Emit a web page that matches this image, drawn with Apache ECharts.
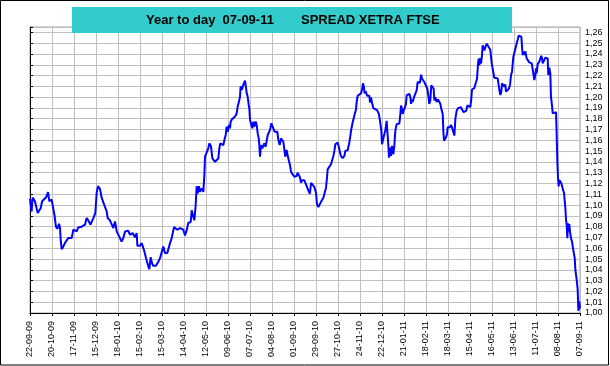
<!DOCTYPE html>
<html><head><meta charset="utf-8">
<script src="https://cdn.jsdelivr.net/npm/echarts@6/dist/echarts.min.js"></script>
<style>html,body{margin:0;padding:0;background:#fff}#c{width:610px;height:366px}</style>
</head><body><div id="c"></div>
<script>
const titleLeft = 'Year to day  07-09-11';
const titleRight = 'SPREAD XETRA FTSE';
const dateLabels = ['22-09-09','20-10-09','17-11-09','15-12-09','18-01-10','15-02-10','15-03-10','14-04-10','12-05-10','09-06-10','07-07-10','04-08-10','01-09-10','29-09-10','27-10-10','24-11-10','22-12-10','21-01-11','18-02-11','18-03-11','15-04-11','16-05-11','13-06-11','11-07-11','08-08-11','07-09-11'];
const labelStep = 20;
const yMin = 1.00, yTop = 1.26, yStep = 0.01;
// [trading day index, spread]
const spreadByDay = [
[0,1.106],[1,1.097],[1.5,1.094],[2.4,1.107],[4.5,1.1035],[6,1.102],[7,1.0927],[8.5,1.0927],[9.7,1.097],[11,1.1035],[12.7,1.105],[14.5,1.107],[16.4,1.112],[17.6,1.1035],[19.7,1.105],[21,1.1035],[22.4,1.0896],[23.6,1.080],[24.8,1.078],[26.4,1.0827],[27.3,1.0787],[27.9,1.0678],[28.8,1.0592],[30.3,1.0617],[31.8,1.0648],[34.8,1.0694],[35.8,1.071],[37.9,1.0694],[39.4,1.0772],[40.9,1.078],[42.4,1.0756],[43.9,1.0793],[45.5,1.0787],[47,1.080],[50,1.0818],[51.5,1.088],[53,1.0858],[55,1.0818],[57.6,1.088],[59.4,1.0927],[60.6,1.1113],[61.8,1.1175],[63.6,1.115],[65.2,1.1066],[66.7,1.105],[68.5,1.0973],[69.7,1.0942],[70.6,1.088],[72.7,1.0858],[74.5,1.0849],[75.8,1.0787],[77.3,1.0849],[78.8,1.0756],[80.3,1.0772],[83.3,1.0663],[84.8,1.0694],[86.4,1.0756],[89.4,1.0762],[90.9,1.0725],[93.3,1.074],[95.5,1.0703],[97,1.074],[97.6,1.0623],[100,1.0623],[101.5,1.0648],[103.6,1.0586],[105.5,1.0508],[107.6,1.043],[108.5,1.0406],[109.7,1.0517],[110.9,1.0462],[112,1.0437],[114.5,1.0437],[116.7,1.0477],[118.2,1.0508],[119.7,1.0524],[121.2,1.0617],[122.7,1.0555],[124.8,1.0555],[127.3,1.0648],[128.8,1.0694],[130.9,1.0796],[132.7,1.080],[133.9,1.0772],[136.4,1.0787],[139.4,1.0772],
[140.9,1.0719],[142.4,1.0765],[143.9,1.0834],[146.1,1.0843],[147,1.0952],[148.5,1.089],[149.4,1.0859],[150.6,1.0998],[151.5,1.1175],[152.4,1.1107],[153.6,1.1175],[154.5,1.1122],[156.1,1.1153],[157.6,1.1122],[158.5,1.1277],[159.1,1.1448],[160.6,1.1463],[162.1,1.1525],[163,1.1572],[164.5,1.1547],[165.8,1.1432],[166.7,1.1423],[168.2,1.1401],[169.7,1.1392],[171.2,1.1432],[172.1,1.1525],[173,1.1572],[174.5,1.1578],[175.8,1.1556],[176.7,1.1603],[177.9,1.1649],[178.8,1.1727],[179.7,1.168],[180.9,1.1742],[181.8,1.1711],[182.4,1.1773],[183.6,1.1795],[184.8,1.1795],[186.4,1.182],[187.9,1.1851],[188.8,1.1913],[190,1.1959],[190.9,1.2006],[191.5,1.2099],[192.7,1.2068],[193.6,1.2105],[194.5,1.213],[195.5,1.2154],[196.4,1.2145],[197,1.2037],[197.9,1.2006],[198.8,1.1928],[199.4,1.1897],[200,1.1789],[201.2,1.1773],[202.1,1.1711],[203,1.1773],[203.9,1.1727],[205.2,1.1773],[206.1,1.1742],[207,1.1664],[207.9,1.1618],[208.5,1.1556],[209.1,1.1448],[210,1.1556],[211.2,1.1525],[212.1,1.154],[213,1.1572],[214.2,1.154],[215.2,1.1525],[216.1,1.1649],[217.3,1.1634],[218.2,1.1696],[219.4,1.1758],[220.3,1.1742],[221.2,1.1711],[222.4,1.168],[223.6,1.1696],[224.8,1.168],[225.8,1.1603],[227,1.1556],[228.2,1.1618],[229.4,1.1618],[230.3,1.1587],[231.5,1.1494],[232.1,1.1448],[233.3,1.151],[234.2,1.1463],[235.2,1.1417],[236.4,1.137],[237.3,1.1308],[238.8,1.1293],[240.3,1.1262],
[241.2,1.1254],[242.4,1.1269],[243.3,1.13],[244.2,1.1285],[245.5,1.1254],[246.4,1.1207],[247.3,1.1229],[249.4,1.1229],[250.9,1.1192],[252.4,1.1176],[253.3,1.113],[254.5,1.1105],[255.5,1.1207],[257,1.1213],[258.5,1.1167],[260,1.1114],[260.9,1.1006],[262.1,1.0981],[263.6,1.099],[265.2,1.1043],[266.7,1.1068],[268.2,1.1083],[269.1,1.1161],[270,1.1254],[270.6,1.1331],[272.1,1.134],[273.6,1.1378],[274.5,1.1409],[275.8,1.1455],[276.7,1.1502],[277.6,1.1564],[278.5,1.1579],[279.7,1.1579],[280.9,1.1533],[281.8,1.1486],[282.7,1.1455],[284.2,1.1434],[285.8,1.1455],[286.7,1.1502],[288.8,1.1508],[290.3,1.1579],[291.2,1.1641],[292.1,1.1703],[293.3,1.1765],[294.8,1.1827],[296.4,1.1889],[297,1.196],[297.9,1.2013],[299.4,1.2023],[300.9,1.2035],[301.8,1.2066],[302.7,1.2128],[303.6,1.2091],[304.2,1.2035],[305.2,1.2054],[306.4,1.2013],[307.6,1.2029],[308.5,1.2013],[309.1,1.1951],[310,1.1998],[310.9,1.1951],[312.1,1.1899],[313.9,1.1889],[315.5,1.188],[317,1.1849],[318.2,1.1781],[319.4,1.1688],[320,1.1564],[321.2,1.1558],[322.1,1.1657],[323,1.1688],[324.2,1.1781],[324.8,1.1787],[325.8,1.1548],[326.4,1.144],[327.3,1.1533],[328.2,1.1455],[329.1,1.1548],[330.3,1.1471],[331.2,1.1548],[332.1,1.1688],[333.3,1.175],[334.5,1.1765],[335.8,1.1756],
[336.7,1.1845],[337.3,1.1923],[338.2,1.1892],[338.8,1.1845],[339.7,1.1876],[340.9,1.1907],[341.8,1.1938],[342.4,1.2016],[343.3,1.2031],[344.8,1.2031],[345.8,1.2],[346.4,1.1938],[347.3,1.1978],[347.9,1.1954],[349.1,1.2],[350.3,1.1991],[350.9,1.2],[351.5,1.2062],[352.4,1.214],[353.3,1.2155],[354.5,1.2133],[355.5,1.2208],[356.4,1.2171],[357.6,1.2171],[358.5,1.214],[360,1.2155],[361.2,1.2078],[362.1,1.2016],[363,1.1938],[363.9,1.1969],[364.8,1.2109],[366.1,1.2124],[367,1.2078],[367.6,1.1969],[368.5,1.2],[369.7,1.1954],[370.9,1.1978],[372.1,1.1969],[373,1.1938],[373.9,1.1892],[375.2,1.1845],[375.8,1.1675],[376.4,1.1597],[377.3,1.1613],[378.2,1.1628],[379.1,1.1659],[379.7,1.1721],[380.6,1.1737],[381.8,1.1721],[382.7,1.1743],[383.6,1.1721],[384.5,1.1706],[385.8,1.1644],[386.7,1.1799],[387.9,1.1876],[389.1,1.1898],[390.3,1.1907],[391.8,1.1907],[392.7,1.1885],[394.2,1.1861],[395.5,1.1854],[396.7,1.1876],[397.6,1.1923],[398.5,1.1929],[399.4,1.1916],[400.3,1.1907],[401.2,1.1985],[401.8,1.2071],[402.4,1.2084],[403.9,1.2084],[405.5,1.2093],[406.4,1.2171],[407.3,1.231],[407.9,1.2357],[408.5,1.2295],[409.1,1.2363],[410,1.231],[410.9,1.2388],[411.5,1.2481],[412.1,1.2496],[413,1.2434],[413.9,1.245],[415.2,1.2496],[416.1,1.2505],[417,1.2481],
[418.5,1.2436],[419.4,1.2344],[420,1.2297],[420.6,1.2313],[421.5,1.2304],[422.1,1.218],[423.6,1.218],[425.2,1.2174],[426.1,1.218],[426.7,1.2066],[427.6,1.202],[428.5,1.2051],[429.1,1.2128],[430.3,1.2137],[431.2,1.2097],[432.1,1.2119],[432.7,1.2051],[433.6,1.2066],[434.5,1.2051],[435.2,1.2076],[436.4,1.2113],[437.3,1.2205],[438.2,1.2236],[438.8,1.2242],[439.4,1.2375],[440.3,1.2359],[441.2,1.2446],[442.4,1.2498],[443.3,1.2529],[444.2,1.2569],[445.5,1.2581],[446.7,1.256],[447.3,1.2467],[447.9,1.239],[448.8,1.2421],[449.7,1.239],[450.3,1.2427],[451.5,1.2359],[452.7,1.2344],[453.9,1.2322],[455.2,1.2329],[456.1,1.2313],[457,1.2322],[457.9,1.2304],[458.5,1.2159],[459.4,1.2205],[460,1.2267],[460.6,1.2221],[461.5,1.2304],[463,1.2329],[463.9,1.2344],[464.8,1.2384],[465.5,1.2359],[466.1,1.2313],[467.3,1.2322],[468.5,1.2366],[469.7,1.2353],[470.6,1.2359],[471.2,1.2205],[472.1,1.2273],[473,1.2221],[473.6,1.2005],[474.5,1.1927],[475.2,1.185],[476.7,1.185],[478.2,1.186],[478.8,1.165],[479.4,1.1403],[480,1.1249],[480.6,1.1172],[481.2,1.1233],[482.1,1.1218],[483,1.1202],[484.2,1.1156],[485.5,1.111],[486.7,1.0971],[487.3,1.0863],[487.9,1.0817],[488.5,1.0693],[489.1,1.0832],[489.7,1.0755],[490.3,1.0823],[490.9,1.0755],[491.8,1.0693],[492.7,1.0663],[493.9,1.0585],[495.2,1.0508],[495.8,1.04],[497,1.0308],[497.9,1.0215],[498.5,1.0021],[499.1,1.0046],[499.4,1.0107],[500,1.004]
];

const FONT = '"Liberation Sans", Arial, sans-serif';
const chart = echarts.init(document.getElementById('c'), null, {renderer: 'canvas'});
chart.setOption({
  animation: false,
  backgroundColor: '#ffffff',
  grid: {left: 30, right: 30, top: 27, bottom: 53, show: true, borderColor: '#a0a0a0', borderWidth: 1, backgroundColor: '#ffffff'},
  xAxis: {
    type: 'value', min: 0, max: (dateLabels.length - 1) * labelStep, interval: labelStep,
    axisLine: {show: true, onZero: false, lineStyle: {color: '#000', width: 1}},
    axisTick: {show: true, length: 3, lineStyle: {color: '#000'}},
    axisLabel: {rotate: 90, margin: 8, fontSize: 9, color: '#000', fontFamily: FONT,
      formatter: v => dateLabels[Math.round(v / labelStep)] || ''},
    splitLine: {show: true, lineStyle: {color: '#c0c0c0', width: 1}}
  },
  yAxis: {
    type: 'value', position: 'right', min: yMin, max: yTop + yStep / 2, interval: yStep,
    axisLine: {show: true, lineStyle: {color: '#000', width: 1}},
    axisTick: {show: true, length: 3, lineStyle: {color: '#000'}},
    axisLabel: {margin: 5, fontSize: 9, color: '#000', fontFamily: FONT,
      formatter: v => v > yTop + 1e-6 ? '' : v.toFixed(2).replace('.', ',')},
    splitLine: {show: true, lineStyle: {color: '#c0c0c0', width: 1}}
  },
  series: [{
    type: 'line', data: spreadByDay, showSymbol: false, symbol: 'none',
    lineStyle: {color: '#0000ff', width: 2}, itemStyle: {color: '#0000ff'}, z: 5
  }],
  graphic: [
    {type: 'rect', z: 100, shape: {x: 72, y: 7, width: 440, height: 26}, style: {fill: '#33cccc'}},
    {type: 'text', z: 101, x: 146, y: 20, style: {text: titleLeft, font: 'bold 13px ' + FONT, fill: '#000', textVerticalAlign: 'middle', verticalAlign: 'middle'}},
    {type: 'text', z: 101, x: 301, y: 20, style: {text: titleRight, font: 'bold 13px ' + FONT, fill: '#000', textVerticalAlign: 'middle', verticalAlign: 'middle'}},
    {type: 'rect', z: 100, shape: {x: 0.5, y: 0.5, width: 608, height: 364.5}, style: {fill: 'none', stroke: '#000', lineWidth: 1}}
  ]
});
</script></body></html>
